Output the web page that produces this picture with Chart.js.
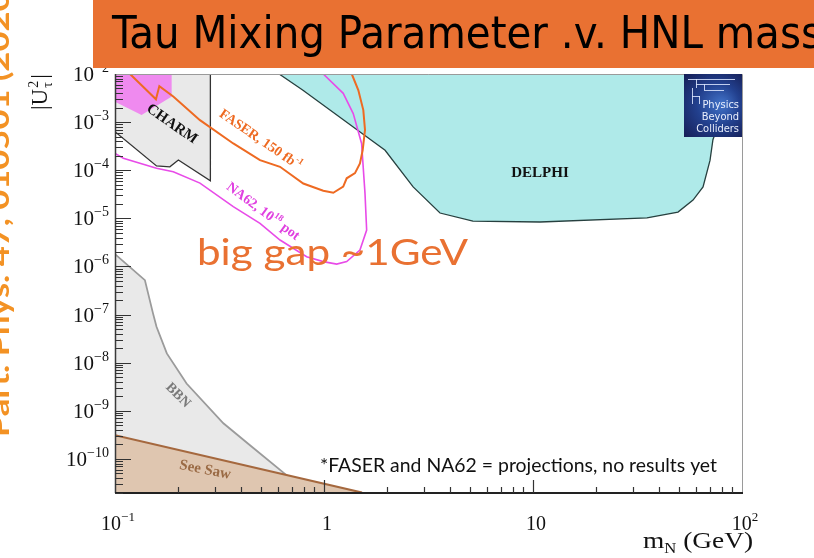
<!DOCTYPE html>
<html>
<head>
<meta charset="utf-8">
<script src="https://cdn.jsdelivr.net/npm/chart.js@4.4.0/dist/chart.umd.min.js"></script>
<style>
  html, body { margin: 0; padding: 0; background: #fff; overflow: hidden; }
  #wrap { width: 814px; height: 558px; position: relative; }
</style>
</head>
<body>
<div id="wrap"><canvas id="chart" width="814" height="558"></canvas></div>
<script>
// ---- data (HNL mass in GeV, |U_tau|^2) ----
const xMin = 0.1, xMax = 100;
const yMin = 1.96e-11, yMax = 1e-2;

const xTickValues = [0.1, 1, 10, 100];
const xTickLabels = [['10', '\u22121'], ['1', ''], ['10', ''], ['10', '2']];
const yTickValues = [1e-2, 1e-3, 1e-4, 1e-5, 1e-6, 1e-7, 1e-8, 1e-9, 1e-10];
const yTickLabels = [['10', '\u22122'], ['10', '\u22123'], ['10', '\u22124'], ['10', '\u22125'], ['10', '\u22126'],
                     ['10', '\u22127'], ['10', '\u22128'], ['10', '\u22129'], ['10', '\u221210']];

const delphiMass = [0.61, 0.79, 1.38, 1.96, 2.67, 3.59, 5.16, 10.8, 35.1, 49.4, 58.3, 65.1, 70.3, 72.6, 78.5, 83];
const delphiU2   = [1e-2, 4.65e-3, 7.9e-4, 2.6e-4, 4.5e-5, 1.29e-5, 8.8e-6, 8.4e-6, 1.02e-5, 1.35e-5, 2.4e-5, 4.5e-5, 1.6e-4, 4.3e-4, 1.1e-3, 1e-2];

const charmMass = [0.1, 0.158, 0.183, 0.201, 0.286, 0.286];
const charmU2   = [6.3e-4, 1.23e-4, 1.18e-4, 1.63e-4, 6.0e-5, 1e-2];

const pinkMass = [0.1, 0.134, 0.187, 0.187];
const pinkU2   = [2.65e-3, 1.4e-3, 3.4e-3, 1e-2];

const faserMass = [0.118, 0.157, 0.163, 0.190, 0.255, 0.368, 0.494, 0.616, 0.796, 0.992, 1.108, 1.236, 1.284, 1.407, 1.486, 1.531, 1.571, 1.542, 1.459, 1.358];
const faserU2   = [1e-2, 2.98e-3, 5.6e-3, 3.4e-3, 1.1e-3, 3.6e-4, 1.62e-4, 1.18e-4, 5.3e-5, 3.75e-5, 3.4e-5, 4.55e-5, 6.8e-5, 8.7e-5, 1.39e-4, 2.6e-4, 6.9e-4, 1.78e-3, 4.65e-3, 1e-2];

const na62Mass = [0.1, 0.1096, 0.158, 0.190, 0.255, 0.368, 0.494, 0.616, 0.826, 0.992, 1.15, 1.284, 1.486, 1.60, 1.571, 1.513, 1.38, 1.236, 0.992];
const na62U2   = [2.24e-4, 1.77e-4, 1.1e-4, 9.3e-5, 5.4e-5, 1.75e-5, 7.9e-6, 3.55e-6, 1.59e-6, 1.26e-6, 1.12e-6, 1.26e-6, 2.2e-6, 5.7e-6, 3.3e-5, 3.6e-4, 1.5e-3, 3.97e-3, 1e-2];

const bbnMass = [0.1, 0.139, 0.152, 0.158, 0.177, 0.220, 0.330, 0.450, 0.693, 0.896];
const bbnU2   = [1.81e-6, 5.2e-7, 1.06e-7, 5.6e-8, 1.56e-8, 3.7e-9, 5.5e-10, 1.82e-10, 3.9e-11, 1.96e-11];

const seesawMass = [0.1, 1.52];
const seesawU2   = [3.1e-10, 2e-11];

const SERIF = "'Liberation Serif','Times New Roman',serif";
const SANS = "Lato,'Liberation Sans',sans-serif";

function pts(xs, ys) {
    return xs.map((x, i) => ({ x: x, y: ys[i] }));
}

// rich text: list of {t, font, dy}
function richWidth(ctx, parts) {
    let w = 0;
    parts.forEach(p => { ctx.font = p.font; w += ctx.measureText(p.t).width; });
    return w;
}
function drawRich(ctx, x, y, parts, align, fitWidth) {
    const w = richWidth(ctx, parts);
    const k = fitWidth ? fitWidth / w : 1;
    ctx.save();
    ctx.translate(x, y);
    ctx.scale(k, 1);
    let cx = align === 'right' ? -w : align === 'center' ? -w / 2 : 0;
    ctx.textAlign = 'left';
    parts.forEach(p => {
        ctx.font = p.font;
        ctx.fillText(p.t, cx, p.dy || 0);
        cx += ctx.measureText(p.t).width;
    });
    ctx.restore();
}
// centered rotated label at pixel position
function drawRotated(ctx, x, y, deg, color, parts) {
    ctx.save();
    ctx.translate(x, y);
    ctx.rotate(deg * Math.PI / 180);
    ctx.fillStyle = color;
    ctx.textBaseline = 'middle';
    drawRich(ctx, 0, 0, parts, 'center');
    ctx.restore();
}
// text stretched to a given width
function drawFitted(ctx, text, x, y, font, width, color) {
    ctx.save();
    ctx.font = font;
    const w = ctx.measureText(text).width;
    ctx.translate(x, y);
    ctx.scale(width / w, 1);
    ctx.fillStyle = color;
    ctx.textAlign = 'left';
    ctx.textBaseline = 'alphabetic';
    ctx.fillText(text, 0, 0);
    ctx.restore();
}

const decorPlugin = {
    id: 'decor',
    afterDraw(chart) {
        const ctx = chart.ctx;
        const xs = chart.scales.x, ys = chart.scales.y;
        const a = chart.chartArea;
        ctx.save();

        // frame
        ctx.lineWidth = 1;
        ctx.strokeStyle = '#9a9a9a';
        ctx.beginPath();
        ctx.moveTo(a.left, a.top + 0.5); ctx.lineTo(a.right + 0.5, a.top + 0.5);
        ctx.lineTo(a.right + 0.5, a.bottom);
        ctx.stroke();
        ctx.strokeStyle = '#3a3a3a';
        ctx.lineWidth = 1.5;
        ctx.beginPath();
        ctx.moveTo(a.left + 0.5, a.top); ctx.lineTo(a.left + 0.5, a.bottom);
        ctx.stroke();
        ctx.strokeStyle = '#222';
        ctx.lineWidth = 2;
        ctx.beginPath();
        ctx.moveTo(a.left, a.bottom); ctx.lineTo(a.right + 1, a.bottom);
        ctx.stroke();

        // y ticks (inside, left)
        ctx.strokeStyle = '#333';
        ctx.lineWidth = 1.2;
        ctx.beginPath();
        for (let d = -11; d <= -3; d++) {
            for (let m = 1; m <= 9; m++) {
                const v = m * Math.pow(10, d);
                if (v < yMin || v > yMax) continue;
                const py = Math.round(ys.getPixelForValue(v)) + 0.5;
                const len = m === 1 ? 16 : 8;
                ctx.moveTo(a.left, py); ctx.lineTo(a.left + len, py);
            }
        }
        // x ticks (inside, bottom)
        for (let d = -1; d <= 1; d++) {
            for (let m = 1; m <= 9; m++) {
                const v = m * Math.pow(10, d);
                if (v <= xMin || v >= xMax) continue;
                const px = Math.round(xs.getPixelForValue(v)) + 0.5;
                const len = m === 1 ? 13 : 6;
                ctx.moveTo(px, a.bottom); ctx.lineTo(px, a.bottom - len);
            }
        }
        ctx.stroke();

        // tick labels
        ctx.fillStyle = '#111';
        ctx.textBaseline = 'alphabetic';
        yTickValues.forEach((v, i) => {
            const py = ys.getPixelForValue(v);
            drawRich(ctx, 109, py + 7, [
                { t: yTickLabels[i][0], font: '21px ' + SERIF },
                { t: yTickLabels[i][1], font: '14px ' + SERIF, dy: -9 }
            ], 'right');
        });
        xTickValues.forEach((v, i) => {
            const px = xs.getPixelForValue(v);
            drawRich(ctx, px + 3, 530, [
                { t: xTickLabels[i][0], font: '20px ' + SERIF },
                { t: xTickLabels[i][1], font: '13px ' + SERIF, dy: -9 }
            ], 'center');
        });

        // axis titles
        ctx.fillStyle = '#111';
        drawRich(ctx, 643, 548, [
            { t: 'm', font: '23px ' + SERIF },
            { t: 'N', font: '14px ' + SERIF, dy: 5 },
            { t: ' (GeV)', font: '23px ' + SERIF }
        ], 'left', 110);
        ctx.save();
        ctx.translate(47, 92);
        ctx.rotate(-Math.PI / 2);
        ctx.font = '23px ' + SERIF;
        const wU = ctx.measureText('|U').width;
        ctx.fillText('|U', -18, 0);
        ctx.font = '14px ' + SERIF;
        ctx.fillText('2', -18 + wU + 1, -9);
        ctx.fillText('\u03c4', -18 + wU + 1, 5);
        ctx.font = '23px ' + SERIF;
        ctx.fillText('|', -18 + wU + 10, 0);
        ctx.restore();

        // region labels
        const B = 'bold ';
        drawRotated(ctx, xs.getPixelForValue(0.187), ys.getPixelForValue(9.1e-4), 35, '#111',
            [{ t: 'CHARM', font: B + '15px ' + SERIF }]);
        drawRotated(ctx, xs.getPixelForValue(0.495), ys.getPixelForValue(4.25e-4), 34.5, '#ee6a22',
            [{ t: 'FASER, 150 fb', font: B + '14px ' + SERIF },
             { t: '-1', font: B + '9px ' + SERIF, dy: -5 }]);
        drawRotated(ctx, xs.getPixelForValue(0.51), ys.getPixelForValue(1.38e-5), 36.5, '#e040e0',
            [{ t: 'NA62, 10', font: B + '14px ' + SERIF },
             { t: '18', font: B + '9px ' + SERIF, dy: -5 },
             { t: ' pot', font: B + '14px ' + SERIF }]);
        drawRotated(ctx, xs.getPixelForValue(10.8), ys.getPixelForValue(8.6e-5), 0, '#111',
            [{ t: 'DELPHI', font: B + '15px ' + SERIF }]);
        drawRotated(ctx, xs.getPixelForValue(0.2), ys.getPixelForValue(2.1e-9), 45, '#7a7a7a',
            [{ t: 'BBN', font: B + '14px ' + SERIF }]);
        drawRotated(ctx, xs.getPixelForValue(0.27), ys.getPixelForValue(5.9e-11), 11, '#9a6a44',
            [{ t: 'See Saw', font: B + '15px ' + SERIF }]);

        // PBC logo
        const lx = 684, ly = a.top, lw = a.right - 684, lh = 63;
        const g = ctx.createRadialGradient(lx + 38, ly + 30, 2, lx + 30, ly + 32, 45);
        g.addColorStop(0, '#3f6fc4');
        g.addColorStop(0.45, '#22408e');
        g.addColorStop(1, '#151c52');
        ctx.fillStyle = g;
        ctx.fillRect(lx, ly, lw, lh);
        ctx.strokeStyle = 'rgba(220,230,255,0.85)';
        ctx.lineWidth = 1;
        ctx.beginPath();
        ctx.moveTo(lx + 4, ly + 5.5); ctx.lineTo(lx + 51, ly + 5.5);
        ctx.moveTo(lx + 12.5, ly + 5); ctx.lineTo(lx + 12.5, ly + 14);
        ctx.moveTo(lx + 12, ly + 10.5); ctx.lineTo(lx + 46, ly + 10.5);
        ctx.moveTo(lx + 20.5, ly + 10); ctx.lineTo(lx + 20.5, ly + 16);
        ctx.moveTo(lx + 20, ly + 16.5); ctx.lineTo(lx + 40, ly + 16.5);
        ctx.moveTo(lx + 8.5, ly + 14); ctx.lineTo(lx + 8.5, ly + 30);
        ctx.moveTo(lx + 8, ly + 22.5); ctx.lineTo(lx + 16, ly + 22.5);
        ctx.moveTo(lx + 15.5, ly + 22); ctx.lineTo(lx + 15.5, ly + 30);
        ctx.stroke();
        ctx.fillStyle = '#e8eefc';
        ctx.textAlign = 'right';
        ctx.textBaseline = 'alphabetic';
        ctx.font = "11px 'Liberation Sans Narrow','DejaVu Sans Condensed',sans-serif";
        ctx.fillText('Physics', lx + lw - 3, ly + 34);
        ctx.fillText('Beyond', lx + lw - 3, ly + 46);
        ctx.fillText('Colliders', lx + lw - 3, ly + 58);

        // slide annotations
        drawFitted(ctx, 'big gap ~1GeV', 197, 265, '37px ' + SANS, 271, '#e97132');
        drawFitted(ctx, '*FASER and NA62 = projections, no results yet', 320, 472, '19px ' + SANS, 397, '#111');

        // left citation (rotated, cut by the page edge)
        ctx.save();
        ctx.translate(9, 437);
        ctx.rotate(-Math.PI / 2);
        ctx.font = 'bold 28px ' + SANS;
        const cite = 'Part. Phys. 47, 010501 (2020)';
        const cw = ctx.measureText(cite).width;
        ctx.scale(455 / cw, 1);
        ctx.fillStyle = '#f39224';
        ctx.textAlign = 'left';
        ctx.fillText(cite, 0, 0);
        ctx.restore();

        // title banner
        ctx.fillStyle = '#e97132';
        ctx.fillRect(93, 0, 721, 68);
        drawFitted(ctx, 'Tau Mixing Parameter .v. HNL mass', 112, 48,
            "45px 'Liberation Sans Narrow','DejaVu Sans Condensed','Liberation Sans',sans-serif", 710, '#000');

        ctx.restore();
    }
};

const common = { pointRadius: 0, pointHoverRadius: 0, tension: 0 };

new Chart(document.getElementById('chart').getContext('2d'), {
    type: 'line',
    data: {
        datasets: [
            Object.assign({ label: 'FASER', data: pts(faserMass, faserU2), borderColor: '#ee6a22', borderWidth: 2, fill: false, order: 1 }, common),
            Object.assign({ label: 'NA62', data: pts(na62Mass, na62U2), borderColor: '#e84be8', borderWidth: 1.6, fill: false, order: 2 }, common),
            Object.assign({ label: 'pink', data: pts(pinkMass, pinkU2), borderWidth: 0, borderColor: 'rgba(0,0,0,0)', backgroundColor: '#ef8aef', fill: 'end', order: 6 }, common),
            Object.assign({ label: 'See Saw', data: pts(seesawMass, seesawU2), borderColor: '#a5683e', borderWidth: 2, backgroundColor: '#dfc6b0', fill: 'start', order: 7 }, common),
            Object.assign({ label: 'BBN', data: pts(bbnMass, bbnU2), borderColor: '#9b9b9b', borderWidth: 1.8, backgroundColor: '#e9e9e9', fill: 'start', order: 8 }, common),
            Object.assign({ label: 'CHARM', data: pts(charmMass, charmU2), borderColor: '#333', borderWidth: 1.3, backgroundColor: '#e9e9e9', fill: 'end', order: 9 }, common),
            Object.assign({ label: 'DELPHI', data: pts(delphiMass, delphiU2), borderColor: '#27403f', borderWidth: 1.3, backgroundColor: '#afeae9', fill: 'end', order: 10 }, common)
        ]
    },
    options: {
        responsive: false,
        animation: false,
        layout: { padding: { left: 115, top: 74, right: 72, bottom: 65 } },
        scales: {
            x: { type: 'logarithmic', min: xMin, max: xMax, display: false },
            y: { type: 'logarithmic', min: yMin, max: yMax, display: false }
        },
        plugins: {
            legend: { display: false },
            tooltip: { enabled: false }
        }
    },
    plugins: [decorPlugin]
});
</script>
</body>
</html>
